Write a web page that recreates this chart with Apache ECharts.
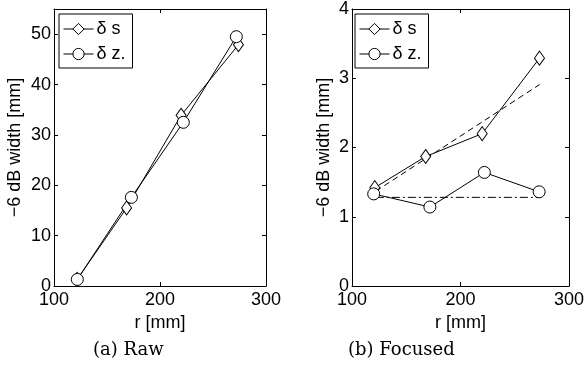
<!DOCTYPE html>
<html>
<head>
<meta charset="utf-8">
<script src="https://cdn.jsdelivr.net/npm/echarts@6/dist/echarts.min.js"></script>
<style>
  html, body { margin: 0; padding: 0; background: #fff; }
  #chart { width: 587px; height: 367px; }
</style>
</head>
<body>
<div id="chart"></div>
<script>
// Raw beam widths (-6 dB) versus range
const rawRangeS = [121.8, 168.5, 219.9, 274.0];
const rawWidthS = [1.3, 15.5, 33.9, 47.9];
const rawRangeZ = [122.0, 173.0, 222.0, 272.0];
const rawWidthZ = [1.3, 17.6, 32.5, 49.5];

// Focused beam widths (-6 dB) versus range
const focRangeS = [121.0, 167.9, 220.0, 272.8];
const focWidthS = [1.42, 1.87, 2.20, 3.29];
const focRangeZ = [120.0, 171.8, 222.0, 272.5];
const focWidthZ = [1.33, 1.14, 1.64, 1.36];

// Reference trends in the focused panel
const trendRange = [122, 273];
const trendS = [1.37, 2.91];
const trendZ = [1.28, 1.28];

const xTicks = [100, 200, 300];
const rawYMax = 55;
const focYMax = 4;

const seriesNames = ['δ s', 'δ z.'];
const captions = ['(a) Raw', '(b) Focused'];

const pairs = (xs, ys) => xs.map((x, i) => [x, ys[i]]);

const FONT = 'Liberation Sans';
const black = '#000';

function xAxes(gridIndex) {
  const base = {
    type: 'value', gridIndex, min: xTicks[0], max: xTicks[xTicks.length - 1], interval: 100,
    axisLine: { show: true, onZero: false, lineStyle: { color: black, width: 1 } },
    axisTick: { show: true, inside: true, length: 4, lineStyle: { color: black } },
    splitLine: { show: false }
  };
  return [
    Object.assign({}, base, {
      position: 'bottom',
      name: 'r [mm]', nameLocation: 'middle', nameGap: 21,
      nameTextStyle: { fontFamily: FONT, fontSize: 18, color: black },
      axisLabel: { show: true, margin: 5, fontFamily: FONT, fontSize: 18, color: black }
    }),
    Object.assign({}, base, { position: 'top', axisLabel: { show: false } })
  ];
}

function yAxes(gridIndex, max, interval, nameGap) {
  const base = {
    type: 'value', gridIndex, min: 0, max, interval,
    axisLine: { show: true, onZero: false, lineStyle: { color: black, width: 1 } },
    axisTick: { show: true, inside: true, length: 4, lineStyle: { color: black } },
    splitLine: { show: false }
  };
  return [
    Object.assign({}, base, {
      position: 'left',
      name: '−6 dB width [mm]', nameLocation: 'middle', nameGap,
      nameTextStyle: { fontFamily: FONT, fontSize: 18, color: black },
      axisLabel: { show: true, margin: 3, fontFamily: FONT, fontSize: 18, color: black, showMaxLabel: max % interval === 0 }
    }),
    Object.assign({}, base, { position: 'right', axisLabel: { show: false } })
  ];
}

function markerSeries(name, data, xi, yi, symbol, size) {
  return {
    name, type: 'line', data, xAxisIndex: xi, yAxisIndex: yi,
    symbol, symbolSize: size, showAllSymbol: true,
    lineStyle: { color: black, width: 1 },
    itemStyle: { color: '#fff', borderColor: black, borderWidth: 1 },
    emphasis: { disabled: true }, animation: false, z: 3
  };
}

function trendSeries(data, dash) {
  return {
    type: 'line', data, xAxisIndex: 2, yAxisIndex: 2, symbol: 'none',
    lineStyle: { color: black, width: 1, type: dash },
    emphasis: { disabled: true }, animation: false, z: 2
  };
}

function legendAt(left, top) {
  return {
    data: seriesNames, orient: 'vertical', left, top,
    backgroundColor: '#fff', borderColor: black, borderWidth: 1, borderRadius: 0,
    padding: [6, 7, 5, 4], itemGap: 7, itemWidth: 30, itemHeight: 14,
    lineStyle: { width: 1, color: black },
    itemStyle: { color: '#fff', borderColor: black, borderWidth: 1 },
    textStyle: { fontFamily: FONT, fontSize: 18, color: black, padding: [0, 0, 0, -2] },
    selectedMode: false
  };
}

const chart = echarts.init(document.getElementById('chart'), null, { renderer: 'canvas' });

chart.setOption({
  backgroundColor: '#fff',
  animation: false,
  grid: [
    { left: 54, right: 321, top: 9, bottom: 81, containLabel: false },
    { left: 352, right: 14, top: 8, bottom: 81, containLabel: false }
  ],
  xAxis: [...xAxes(0), ...xAxes(1)],
  yAxis: [...yAxes(0, rawYMax, 10, 30), ...yAxes(1, focYMax, 1, 19)],
  legend: [legendAt(59, 14), legendAt(355, 14)],
  series: [
    markerSeries(seriesNames[0], pairs(rawRangeS, rawWidthS), 0, 0, 'diamond', [10, 14]),
    markerSeries(seriesNames[1], pairs(rawRangeZ, rawWidthZ), 0, 0, 'circle', 12),
    trendSeries(pairs(trendRange, trendS), [6, 4]),
    trendSeries(pairs(trendRange, trendZ), [8, 3, 2, 3]),
    markerSeries(seriesNames[0], pairs(focRangeS, focWidthS), 2, 2, 'diamond', [10, 14]),
    markerSeries(seriesNames[1], pairs(focRangeZ, focWidthZ), 2, 2, 'circle', 12)
  ],
  graphic: [
    { type: 'text', left: 93, top: 341, style: { text: captions[0], font: '18px "DejaVu Serif"', fill: black } },
    { type: 'text', left: 348, top: 341, style: { text: captions[1], font: '18px "DejaVu Serif"', fill: black } }
  ]
});
</script>
</body>
</html>
